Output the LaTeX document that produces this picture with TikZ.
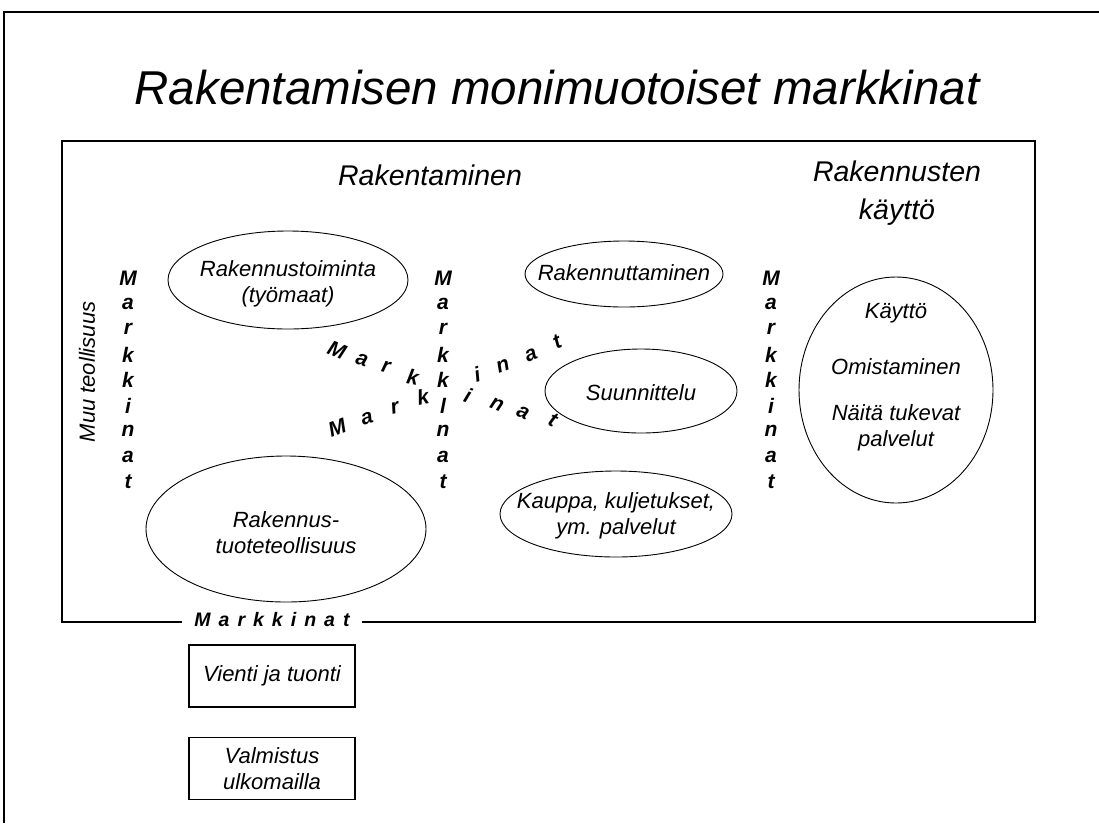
\documentclass[tikz,border=0pt]{standalone}
\usepackage{fontspec}
\setmainfont{Liberation Sans}
\usetikzlibrary{shapes.geometric}
\begin{document}
\begin{tikzpicture}[x=1pt,y=-1pt,
  txt/.style={font=\fontsize{22}{26}\selectfont\itshape, align=center, inner sep=0pt},
  head/.style={font=\fontsize{28.5}{36}\selectfont\itshape, align=center, inner sep=0pt},
  oval/.style={draw, ellipse, line width=0.9pt, inner sep=0pt},
  mk/.style={font=\fontsize{21}{24}\selectfont\bfseries\itshape, inner sep=0pt},
  boxed/.style={draw, line width=1.1pt, inner sep=0pt, align=center,
    font=\fontsize{22}{26}\selectfont\itshape, minimum width=166pt, minimum height=62pt}]
\useasboundingbox (0,0) rectangle (1099,823);

% slide frame (top and left edges)
\draw[line width=2pt] (4,823) -- (4,12) -- (1099,12);

% title
\node[font=\fontsize{47.5}{52}\selectfont\itshape, inner sep=0pt] (title) at (557,88)
  {Rakentamisen monimuotoiset markkinat};

% bottom label of the market frame
\node[mk, font=\fontsize{19.5}{22}\selectfont\bfseries\itshape, inner xsep=12pt] (mkb) at (272,620)
  {M\hspace{8pt}a\hspace{8pt}r\hspace{8pt}k\hspace{8pt}k\hspace{8pt}i\hspace{8pt}n\hspace{8pt}a\hspace{8pt}t};
\draw[line width=1.2pt] (mkb.west |- 0,622) -- (62,622) -- (62,141) -- (1035,141) -- (1035,622) -- (mkb.east |- 0,622);

% section headings
\node[head] (rak) at (430,175) {Rakentaminen};
\node[head] (kay) at (897,193) {Rakennusten\\[2pt]käyttö};

% ovals
\node[oval, minimum width=240pt, minimum height=98pt] (e1) at (288,280) {};
\node[txt] (t1) at (288,284) {Rakennustoiminta\\(työmaat)};

\node[oval, minimum width=198pt, minimum height=66pt] (e2) at (624,274) {};
\node[txt] (t2) at (624,273) {Rakennuttaminen};

\node[oval, minimum width=192pt, minimum height=84pt] (e3) at (641,391) {};
\node[txt] (t3) at (641,393) {Suunnittelu};

\node[oval, minimum width=194pt, minimum height=226pt] (e4) at (896,390) {};
\node[txt] (t4a) at (896,313) {Käyttö};
\node[txt] (t4b) at (896,367) {Omistaminen};
\node[txt] (t4c) at (896,428) {Näitä tukevat\\palvelut};

\node[oval, minimum width=280pt, minimum height=146pt] (e5) at (286,529) {};
\node[txt] (t5) at (286,533) {Rakennus-\\tuoteteollisuus};

\node[oval, minimum width=232pt, minimum height=86pt] (e6) at (616,514) {};
\node[txt] (t6) at (616,516) {Kauppa, kuljetukset,\\ym. palvelut};

% side label
\node[txt, rotate=90] (muu) at (87,372) {Muu teollisuus};

% vertical market columns
\foreach \l [count=\i from 0] in {M,a,r,k,k,i,n,a,t}
  \node[mk] (va\i) at (128,278+25.5*\i) {\l};
\foreach \l [count=\i from 0] in {M,a,r,k,k,l,n,a,t}
  \node[mk] (vb\i) at (443,278+25.5*\i) {\l};
\foreach \l [count=\i from 0] in {M,a,r,k,k,i,n,a,t}
  \node[mk] (vc\i) at (771,278+25.5*\i) {\l};

% crossing curved market words
\foreach \x/\y/\r/\l [count=\i] in
  {337/350/-22/M, 362/360/-18/a, 386/367/-14/r, 413/377/-10/k,
   477/374/16/i, 503/366/20/n, 531/355/23/a, 557/342/26/t}
  \node[mk, rotate=\r] (da\i) at (\x,\y) {\l};
\foreach \x/\y/\r/\l [count=\i] in
  {337/428/20/M, 367/418/17/a, 395/408/14/r, 423/397/11/k,
   468/395/-20/i, 497/405/-22/n, 523/413/-24/a, 553/420/-26/t}
  \node[mk, rotate=\r] (db\i) at (\x,\y) {\l};

% boxes below
\node[boxed] (b1) at (272,676) {Vienti ja tuonti};
\node[boxed] (b2) at (272,768.5) {Valmistus\\ulkomailla};
\end{tikzpicture}
\end{document}
